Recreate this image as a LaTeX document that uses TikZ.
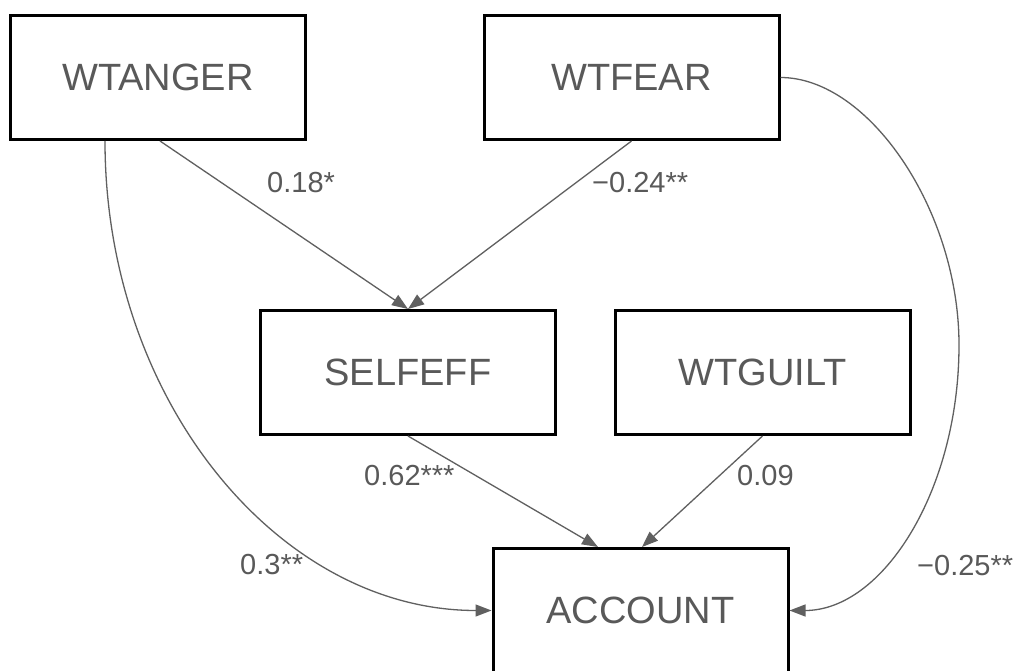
\documentclass[tikz,border=0pt]{standalone}
\usepackage{fontspec}
\setmainfont{Liberation Sans}
\usetikzlibrary{arrows.meta}
\definecolor{txt}{HTML}{595959}
\definecolor{ln}{HTML}{606060}
\begin{document}
\begin{tikzpicture}[x=1pt,y=-1pt,
 box/.style={draw=black, line width=3pt, minimum width=295pt, minimum height=124pt, inner sep=0pt, text=txt, font=\fontsize{38}{44}\selectfont},
 lab/.style={anchor=base west, inner sep=0pt, text=txt, font=\fontsize{29}{33}\selectfont},
 arr/.style={draw=ln, line width=1.3pt, -{Triangle[length=16pt,width=12pt]}}]
\useasboundingbox[fill=white] (0,0) rectangle (1015,671);
\node[box] (anger) at (158,77.5) {WTANGER};
\node[box] (fear) at (631.5,77.5) {WTFEAR};
\node[box] (self) at (408,372.5) {SELFEFF};
\node[box] (guilt) at (762.5,372.5) {WTGUILT};
\node[box] (acc) at (640.5,610.5) {ACCOUNT};
\coordinate (cr) at (959,345);
\draw[arr] ([xshift=2pt]anger.south) -- (self.north);
\draw[arr] (fear.south) -- (self.north);
\draw[arr] (self.south) -- ([xshift=-42.5pt]acc.north);
\draw[arr] (guilt.south) -- ([xshift=1.5pt]acc.north);
\draw[arr] ([xshift=-53pt]anger.south) .. controls +(0,259) and +(-213,0) .. (acc.west);
\draw[arr] (fear.east) .. controls +(88,0) and +(0,-135) .. (cr) .. controls +(0,146) and +(93,0) .. (acc.east);
\node[lab] (l1) at (267,193) {0.18*};
\node[lab] (l2) at (592,193) {−0.24**};
\node[lab] (l3) at (364,485) {0.62***};
\node[lab] (l4) at (737,485) {0.09};
\node[lab] (l5) at (240,574) {0.3**};
\node[lab] (l6) at (917,575) {−0.25**};
\end{tikzpicture}
\end{document}
